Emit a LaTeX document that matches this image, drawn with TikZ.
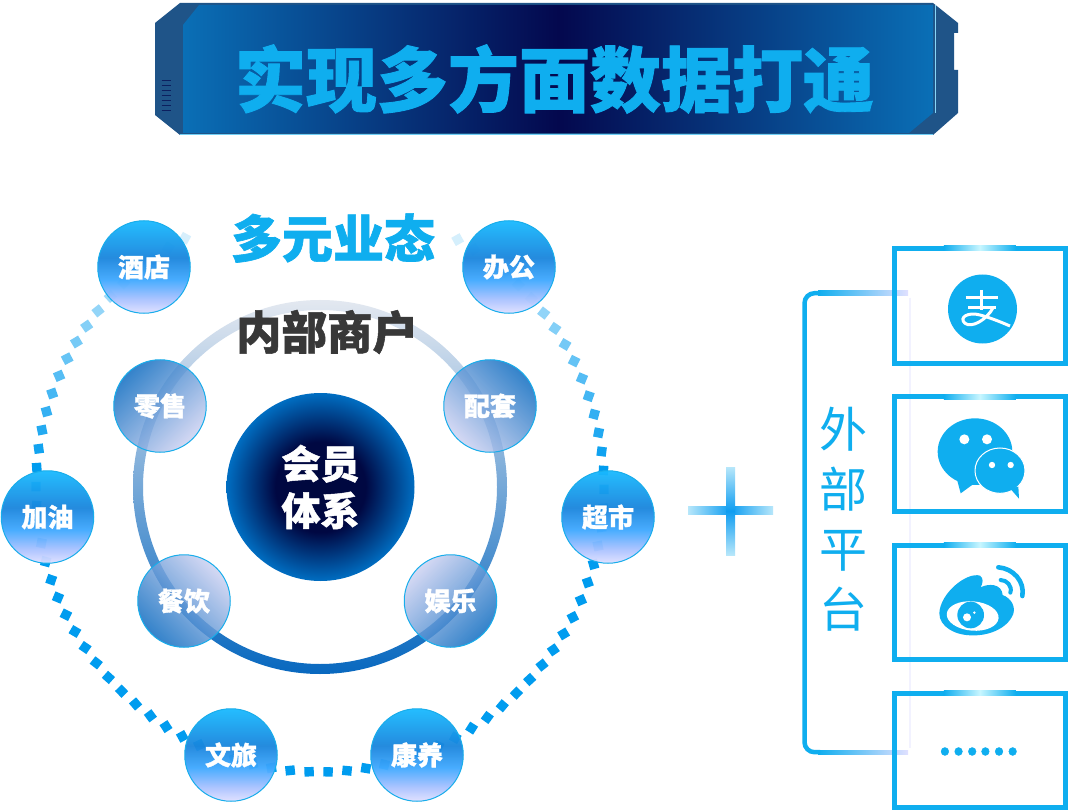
\documentclass[tikz,border=0pt]{standalone}
\usepackage{fontspec}
\newfontfamily\cjk[BoldFeatures={FakeBold=1.2}]{Noto Sans CJK SC}
\definecolor{accent}{HTML}{0FAEEF}
\definecolor{framec}{HTML}{1F5488}
\definecolor{navy}{HTML}{04084E}
\definecolor{edgeblue}{HTML}{0A6FB6}
\definecolor{dashc}{HTML}{009CEF}
\definecolor{ballline}{HTML}{18ADEB}
\definecolor{ringpale}{HTML}{E3E8F0}
\definecolor{ringmid}{HTML}{6FA3D6}
\definecolor{ringdark}{HTML}{0868BF}
\definecolor{glow}{HTML}{C8F6FF}
\pgfdeclareverticalshading{outerball}{100bp}{color(0bp)=(white!88!blue);color(25bp)=(white!88!blue);color(33bp)=(cyan!30!blue!35!white);color(43bp)=(cyan!55!blue!75!white);color(55bp)=(cyan!55!blue!85!black!90!white);color(75bp)=(cyan!70!blue!90!white);color(100bp)=(cyan!70!blue!90!white)}
\pgfdeclareradialshading{coreball}{\pgfpoint{0bp}{0bp}}{rgb(0bp)=(0,0.03,0.24);rgb(12bp)=(0,0.03,0.26);rgb(25bp)=(0,0.43,0.76);rgb(50bp)=(0,0.43,0.76)}
\tikzset{
  outerb/.style={circle,draw=ballline,line width=1pt,minimum size=92.5pt,inner sep=0pt,shading=outerball,fill opacity=.95,text opacity=1,text=white,font=\cjk\bfseries\fontsize{26}{28}\selectfont},
  innerb/.style={circle,draw=ballline,line width=1pt,minimum size=92.5pt,inner sep=0pt,top color=ringdark,bottom color=ringpale!90!blue,shading angle=#1,fill opacity=.82,draw opacity=1,text opacity=1,text=white,font=\cjk\bfseries\fontsize{26}{28}\selectfont},
  panel/.style={draw=accent,line width=5pt,minimum width=170.5pt,inner sep=0pt,outer sep=0pt},
}
\begin{document}
\begin{tikzpicture}[x=1pt,y=-1pt]
  \path[use as bounding box,fill=white] (0,0) rectangle (1068,810);
  % banner
  \fill[framec] (180,3)--(933,3)--(958,23)--(958,33)--(954,33)--(954,70)--(958,70)--(958,113)--(933,135)--(180,135)--(155,115)--(155,23)--cycle;
  \shade[left color=edgeblue,right color=edgeblue,middle color=navy] (199,5)--(933,5)--(933,113)--(909,133)--(183,133)--(183,25)--cycle;
  \draw[line width=.8pt,white!50!accent] (935,5)--(935,113);
  \draw[line width=1.2pt,white!40!accent] (180,134.5)--(933,134.5);
  \foreach \y in {80,85,...,110}
    \draw[line width=.8pt,navy!70!framec] (161.5,\y)--(171,\y);
  \node[text=accent,font=\cjk\bfseries\fontsize{71}{71}\selectfont] (title) at (554.5,79) {实现多方面数据打通};
  % dashed outer ring
  \foreach \a in {-61,-57.17,...,245}{
    \pgfmathsetmacro{\dashy}{488+284*sin(\a)}
    \pgfmathsetmacro{\mixv}{min(100,12+(\dashy-228)/240*88)}
    \fill[dashc!\mixv!white,shift={({320+284*cos(\a)},{488+284*sin(\a)})},rotate=\a] (-4.7,-4.7) rectangle (4.7,4.7);
  }
  % inner ring
  \shade[top color=ringpale,middle color=ringmid,bottom color=ringdark,even odd rule] (320,487) circle (187) (320,487) circle (177);
  % balls
  \node[circle,minimum size=188pt,inner sep=0pt,shading=coreball,align=center,text=white,font=\cjk\bfseries\fontsize{39}{47}\selectfont] (core) at (320.5,487) {会员\\体系};
  \node[innerb=45] (lingshou) at (160,406) {零售};
  \node[innerb=-45] (peitao) at (490,406) {配套};
  \node[innerb=135] (canyin) at (184,601) {餐饮};
  \node[innerb=-135] (yule) at (450.5,601) {娱乐};
  \node[outerb] (jiudian) at (144,267) {酒店};
  \node[outerb] (bangong) at (509,267) {办公};
  \node[outerb] (jiayou) at (47.5,517) {加油};
  \node[outerb] (chaoshi) at (608,517) {超市};
  \node[outerb] (wenlv) at (231,755) {文旅};
  \node[outerb] (kangyang) at (417,755) {康养};
  \node[text=accent,font=\cjk\bfseries\fontsize{51}{51}\selectfont] (duoyuan) at (333,238) {多元业态};
  \node[text=black!78,font=\cjk\bfseries\fontsize{45.5}{46}\selectfont] (neibu) at (327,332) {内部商户};
  % plus
  \shade[left color=white!70!accent,right color=white!70!accent,middle color=accent!90!blue] (688,506) rectangle (773,514);
  \shade[top color=white!70!accent,bottom color=white!70!accent,middle color=accent!90!blue] (726,467) rectangle (735,555);
  % bracket
  \draw[white!95!blue,line width=1.5pt] (910,298)--(910,748);
  \shade[left color=accent,right color=white!88!blue] (818,291) rectangle (908,295.5);
  \shade[left color=accent,right color=white!88!blue] (818,750) rectangle (908,754.5);
  \draw[accent,line width=4.5pt,rounded corners=10pt] (820,293.2)--(804.5,293.2)--(804.5,752.2)--(820,752.2);
  \node[text=accent,align=center,font=\cjk\fontsize{48}{60}\selectfont] (waibu) at (843,519) {外\\部\\平\\台};
  % panels
  \node[panel,minimum height=115pt] (zhi) at (979.75,306) {};
  \node[panel,minimum height=114.5pt] (wx) at (979.75,453.75) {};
  \node[panel,minimum height=114pt] (wb) at (979.75,602) {};
  \node[panel,minimum height=114.5pt] (more) at (979.75,750.25) {};
  \foreach \p in {zhi,wx,wb,more}
    \shade[left color=accent,right color=accent,middle color=glow] ([shift={(-36,-2.5)}]\p.north) rectangle ([shift={(36,2.5)}]\p.north);
  \node[text=accent,font=\cjk\bfseries\fontsize{36}{36}\selectfont] (dots) at (978.5,751.5) {……};
  % alipay
  \fill[accent] (982.5,309) circle (34.5);
  \begin{scope}[shift={(780,230)},scale=1/3,line cap=butt]
    \draw[white,line width=3pt] (557,203)--(653,203) (605,180)--(605,240) (565,232)--(648,232);
    \draw[white,line width=3pt] (640,232) .. controls (620,270) and (575,295) .. (555,280) .. controls (535,262) and (565,245) .. (600,255) .. controls (630,263) and (660,275) .. (690,288);
  \end{scope}
  % wechat
  \begin{scope}[shift={(780,230)},scale=1/3]
    \fill[accent] (585,665) ellipse (112 and 100);
    \fill[accent] (530,745)--(542,790)--(590,755)--cycle;
    \fill[accent,draw=white,line width=1pt] (660,722) ellipse (75 and 68);
    \fill[accent] (690,775)--(717,806)--(715,770)--cycle;
    \fill[white] (553,628) circle (15) (621,628) circle (15) (636,705) circle (9.5) (692,705) circle (9.5);
  \end{scope}
  % weibo
  \begin{scope}[shift={(780,530)},scale=1/3]
    \fill[accent] (478,250) .. controls (480,190) and (560,125) .. (600,137) .. controls (612,145) and (608,160) .. (602,172) .. controls (625,160) and (665,160) .. (668,195) .. controls (695,205) and (712,235) .. (695,262) .. controls (670,305) and (610,318) .. (575,316) .. controls (525,316) and (478,290) .. (478,250)--cycle;
    \fill[white,rotate around={-5:(578,258)}] (578,258) ellipse (78 and 44);
    \fill[accent] (572,255) circle (40);
    \fill[white] (561,262) circle (12) (583,248) circle (4);
    \draw[accent,line width=4.6pt,line cap=round] (655,112) .. controls (700,115) and (735,155) .. (727,198);
    \draw[accent,line width=4pt,line cap=round] (662,150) .. controls (680,150) and (698,168) .. (691,188);
  \end{scope}
\end{tikzpicture}
\end{document}
